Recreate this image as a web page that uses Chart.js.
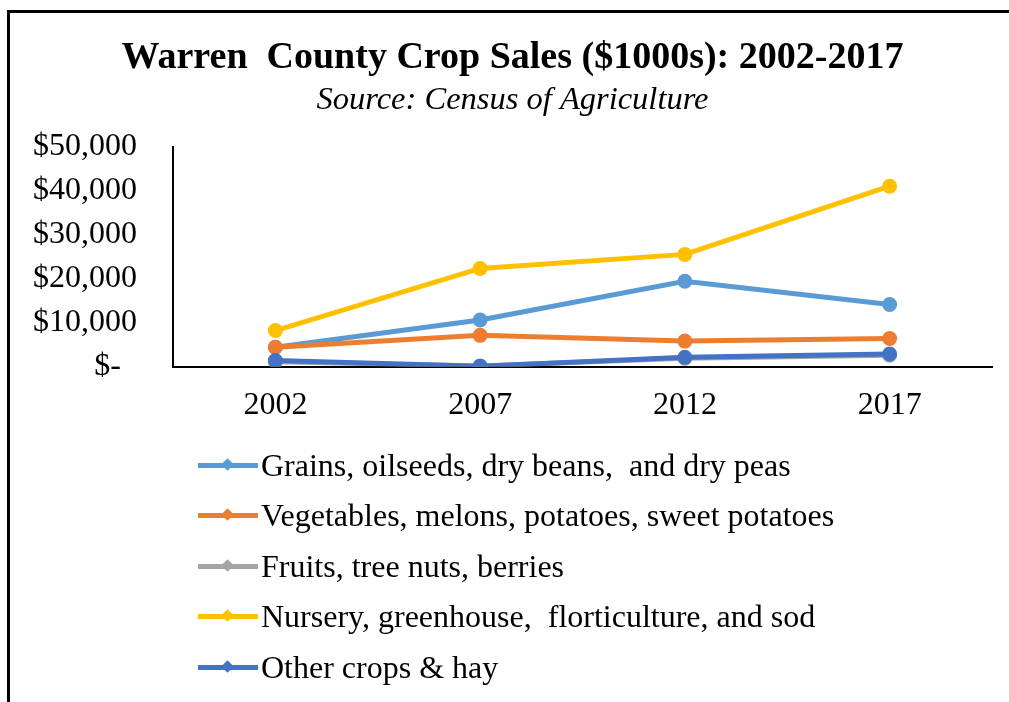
<!DOCTYPE html>
<html>
<head>
<meta charset="utf-8">
<script src="https://cdn.jsdelivr.net/npm/chart.js@4/dist/chart.umd.min.js"></script>
<style>
  html, body { margin: 0; padding: 0; background: #fff; }
  #wrap { position: relative; width: 1009px; height: 702px; overflow: hidden; background: #fff; }
  #frame { position: absolute; left: 7px; top: 10px; width: 1010px; height: 700px;
           border-top: 3px solid #000; border-left: 3px solid #000; }
  #chartBox { position: absolute; left: 0; top: 0; width: 1009px; height: 460px; }
  #legend { position: absolute; left: 198px; top: 440px;
            font-family: "Liberation Serif", "Times New Roman", Times, serif;
            font-size: 32px; color: #000; }
  .item { height: 50.5px; display: flex; align-items: center; white-space: pre; }
  .sample { position: relative; width: 60px; height: 5px; margin-right: 3px; }
  .sample i { position: absolute; left: 25px; top: -3px; width: 9px; height: 9px; transform: rotate(45deg); }
</style>
</head>
<body>
<div id="wrap">
  <div id="chartBox"><canvas id="line"></canvas></div>
  <div id="legend"></div>
  <div id="frame"></div>
</div>
<script>
const years = ["2002", "2007", "2012", "2017"];

const grains = [4400, 10600, 19400, 14100];
const vegetables = [4400, 7100, 5800, 6400];
const fruits = [1100, 150, 1900, 2600];
const nursery = [8200, 22300, 25500, 41000];
const otherCrops = [1400, 100, 2100, 2850];

const seriesNames = [
    "Grains, oilseeds, dry beans,  and dry peas",
    "Vegetables, melons, potatoes, sweet potatoes",
    "Fruits, tree nuts, berries",
    "Nursery, greenhouse,  florticulture, and sod",
    "Other crops & hay"
];
const seriesColors = ["#5b9bd5", "#ed7d31", "#a5a5a5", "#ffc000", "#4472c4"];
const seriesData = [grains, vegetables, fruits, nursery, otherCrops];

const yTicks = [0, 10000, 20000, 30000, 40000, 50000];

////////////////////////////////////////////////////////////////////////////////////

const serif = "'Liberation Serif', 'Times New Roman', Times, serif";

const datasets = seriesData.map((d, i) => ({
    label: seriesNames[i],
    data: d,
    borderColor: seriesColors[i],
    backgroundColor: seriesColors[i],
    borderWidth: 5,
    pointRadius: 5,
    pointHoverRadius: 5,
    tension: 0,
    // later series on top, like the original
    order: seriesData.length - i
}));

const line = document.querySelector("#line");
const myLineChart = new Chart(line, {
    type: "line",
    data: {
        labels: years,
        datasets: datasets
    },
    options: {
        animation: false,
        responsive: true,
        maintainAspectRatio: false,
        layout: {
            padding: { left: 33, right: 17, top: 0, bottom: 15 }
        },
        plugins: {
            legend: { display: false },
            tooltip: { enabled: false },
            title: {
                display: true,
                text: "Warren  County Crop Sales ($1000s): 2002-2017",
                color: "#000",
                font: { family: serif, size: 38, weight: "bold", lineHeight: 1.2 },
                padding: { top: 35, bottom: 0 }
            },
            subtitle: {
                display: true,
                text: "Source: Census of Agriculture",
                color: "#000",
                font: { family: serif, size: 32.5, style: "italic", lineHeight: 1.2 },
                padding: { top: 0, bottom: 27 }
            }
        },
        scales: {
            x: {
                offset: true,
                grid: { display: false, drawTicks: false },
                border: { display: true, color: "#000", width: 2 },
                ticks: { color: "#000", font: { family: serif, size: 32 }, padding: 20 }
            },
            y: {
                min: 0,
                max: 50000,
                afterBuildTicks: (axis) => { axis.ticks = yTicks.map(v => ({ value: v })); },
                afterFit: (axis) => { axis.width = 140; },
                grid: { display: false, drawTicks: false },
                border: { display: true, color: "#000", width: 2 },
                ticks: {
                    color: "#000",
                    font: { family: serif, size: 32 },
                    padding: 36,
                    callback: (v) => v === 0 ? "$-  " : "$" + v.toLocaleString("en-US")
                }
            }
        }
    }
});

////////////////////////////////////////////////////////////////////////////////////

const legend = document.querySelector("#legend");
seriesNames.forEach((name, i) => {
    const row = document.createElement("div");
    row.className = "item";
    const s = document.createElement("span");
    s.className = "sample";
    s.style.background = seriesColors[i];
    const m = document.createElement("i");
    m.style.background = seriesColors[i];
    s.appendChild(m);
    row.appendChild(s);
    row.appendChild(document.createTextNode(name));
    legend.appendChild(row);
});
</script>
</body>
</html>
